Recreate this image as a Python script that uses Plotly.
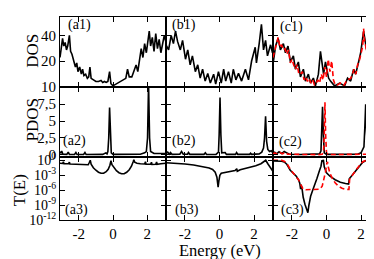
import numpy as np
import plotly.graph_objects as go

# ---------------- data (energy in eV, value) ----------------
dos_a1 = [(-3.1, 22), (-3.0, 33), (-2.95, 37), (-2.88, 30), (-2.8, 33), (-2.72, 27), (-2.65, 30),
          (-2.55, 40), (-2.48, 26), (-2.4, 24), (-2.3, 20), (-2.2, 17), (-2.12, 19), (-2.05, 15),
          (-1.95, 17), (-1.85, 14), (-1.78, 16), (-1.7, 13.5), (-1.6, 14), (-1.5, 12.5), (-1.42, 13),
          (-1.35, 17), (-1.28, 12.5), (-1.15, 12), (-1.0, 11.5), (-0.85, 11.5), (-0.7, 11.8),
          (-0.6, 11.2), (-0.5, 11.5), (-0.4, 11.2), (-0.3, 11.5), (-0.2, 15), (-0.12, 10.8),
          (0.0, 10.2), (0.1, 10.5), (0.25, 11), (0.4, 11.5), (0.6, 12), (0.75, 12.5), (0.85, 16),
          (0.95, 13), (1.1, 13), (1.25, 16), (1.35, 18), (1.45, 15), (1.55, 20), (1.65, 28),
          (1.75, 22), (1.85, 32), (1.95, 25), (2.05, 38), (2.12, 45), (2.2, 30), (2.3, 38),
          (2.4, 26), (2.5, 42), (2.6, 28), (2.7, 36), (2.8, 25), (2.9, 33), (3.0, 40), (3.1, 33)]

dos_b1 = [(-3.1, 31), (-2.95, 27), (-2.8, 40), (-2.67, 32), (-2.55, 45), (-2.43, 34), (-2.27, 27),
          (-2.14, 35), (-1.97, 21), (-1.84, 27), (-1.7, 18), (-1.57, 23), (-1.4, 15), (-1.26, 18),
          (-1.12, 12.6), (-0.98, 16), (-0.83, 11.6), (-0.68, 14.3), (-0.53, 11), (-0.34, 14),
          (-0.22, 10.7), (-0.06, 15), (0.1, 11), (0.24, 16), (0.36, 11.6), (0.52, 15), (0.68, 11),
          (0.8, 16), (0.95, 12), (1.1, 14.3), (1.28, 11.6), (1.5, 16), (1.68, 12), (1.86, 20),
          (2.07, 29), (2.14, 19), (2.3, 32), (2.43, 54), (2.55, 27), (2.67, 35), (2.78, 23),
          (2.96, 31), (3.07, 25), (3.1, 26)]

dos_c1_black = [(-3.1, 20), (-3.08, 19.5), (-2.95, 30), (-2.8, 37), (-2.67, 27), (-2.5, 32), (-2.38, 25),
                (-2.23, 30), (-2.09, 19.5), (-1.92, 23), (-1.8, 16), (-1.63, 19.5), (-1.51, 13),
                (-1.34, 16), (-1.22, 11.6), (-1.05, 14), (-0.93, 11), (-0.76, 12.6), (-0.64, 10.2),
                (-0.47, 14), (-0.35, 26), (-0.17, 14), (-0.06, 19.5), (0.12, 12.6), (0.23, 11.6),
                (0.47, 10.2), (0.76, 11), (1.05, 10.2), (1.22, 12.6), (1.4, 11.6), (1.57, 16),
                (1.69, 14), (1.86, 19.5), (1.98, 25), (2.15, 45), (2.27, 30), (2.38, 23), (2.56, 27),
                (2.67, 19.5), (2.85, 25), (3.02, 19.5), (3.1, 24)]

dos_c1_red = [(-3.1, 22), (-3.0, 26), (-2.9, 33), (-2.8, 38), (-2.7, 29), (-2.6, 31), (-2.5, 27),
              (-2.4, 28), (-2.3, 24), (-2.2, 27), (-2.1, 19), (-2.0, 21), (-1.9, 18), (-1.8, 16),
              (-1.7, 18), (-1.6, 14), (-1.5, 14), (-1.4, 15), (-1.3, 12), (-1.2, 13), (-1.1, 11.5),
              (-1.0, 12.5), (-0.9, 11), (-0.8, 12), (-0.7, 10.5), (-0.6, 11), (-0.5, 12), (-0.4, 11),
              (-0.3, 14), (-0.2, 12), (-0.1, 17), (0.0, 13), (0.1, 21), (0.2, 15), (0.3, 20),
              (0.4, 12), (0.5, 10.5), (0.6, 10.3), (0.8, 11), (1.0, 10.3), (1.2, 12), (1.4, 12.5),
              (1.5, 14), (1.6, 16), (1.7, 14), (1.8, 18), (1.9, 20), (2.0, 24), (2.1, 30),
              (2.15, 48), (2.2, 35), (2.3, 28), (2.4, 24), (2.5, 28), (2.6, 20), (2.7, 22),
              (2.8, 26), (2.9, 20), (3.0, 23), (3.1, 26)]

pdos_a2 = [(-3.1, 0.45), (-3.05, 0.3), (-3.0, 0.55), (-2.93, 0.1), (-2.7, 0.08), (-2.62, 0.4),
           (-2.55, 0.06), (-2.25, 0.06), (-2.17, 0.35), (-2.1, 0.05), (-1.72, 0.05), (-1.64, 0.35),
           (-1.57, 0.05), (-1.0, 0.06), (-0.6, 0.08), (-0.42, 0.3), (-0.35, 0.15), (-0.3, 0.5),
           (-0.25, 2.5), (-0.2, 7.0), (-0.15, 2.5), (-0.1, 0.3), (0.0, 0.08), (0.5, 0.06),
           (1.0, 0.08), (1.6, 0.1), (1.85, 0.3), (1.95, 0.5), (2.02, 2.5), (2.08, 10.5),
           (2.14, 2.5), (2.2, 0.5), (2.4, 0.2), (2.8, 0.15), (3.1, 0.2)]

pdos_b2 = [(-3.1, 0.2), (-3.0, 0.4), (-2.9, 0.1), (-2.84, 0.35), (-2.75, 0.08), (-2.3, 0.1),
           (-2.2, 0.5), (-2.1, 0.1), (-1.85, 0.1), (-1.8, 0.35), (-1.72, 0.08), (-0.9, 0.08),
           (-0.82, 0.3), (-0.75, 0.06), (-0.2, 0.08), (-0.06, 0.4), (-0.02, 3.0), (0.03, 8.5),
           (0.08, 3.0), (0.13, 0.3), (0.33, 0.35), (0.4, 0.08), (0.93, 0.08), (0.99, 0.35),
           (1.06, 0.08), (1.75, 0.08), (1.8, 0.25), (1.86, 0.08), (2.3, 0.15), (2.45, 0.4),
           (2.55, 1.0), (2.61, 2.5), (2.67, 5.7), (2.73, 2.0), (2.8, 0.8), (2.9, 0.5), (3.0, 0.6),
           (3.1, 0.3)]

pdos_c2_black = [(-3.1, 0.2), (-3.0, 0.4), (-2.9, 0.15), (-2.75, 0.45), (-2.6, 0.2), (-2.45, 0.5),
                 (-2.3, 0.3), (-2.15, 0.1), (-1.5, 0.05), (-0.6, 0.05), (-0.4, 0.15), (-0.32, 0.6),
                 (-0.28, 3.0), (-0.23, 7.1), (-0.18, 3.0), (-0.13, 0.3), (0.0, 0.08), (1.0, 0.05),
                 (1.8, 0.1), (2.0, 0.3), (2.1, 0.8), (2.17, 1.2), (2.22, 4.0), (2.27, 7.5),
                 (2.32, 3.5), (2.38, 0.6), (2.5, 0.3), (2.7, 0.2), (2.85, 0.5), (2.95, 0.3),
                 (3.05, 0.7), (3.1, 0.6)]

pdos_c2_red = [(-3.1, 0.15), (-3.0, 0.3), (-2.85, 0.1), (-2.7, 0.35), (-2.55, 0.15), (-2.4, 0.4),
               (-2.25, 0.1), (-1.5, 0.03), (-0.5, 0.03), (-0.25, 0.1), (-0.17, 0.5), (-0.13, 3.0),
               (-0.09, 7.8), (-0.05, 3.0), (0.0, 0.3), (0.1, 0.05), (1.5, 0.03), (2.2, 0.08),
               (2.6, 0.1), (3.1, 0.15)]

# transmission given as log10 T(E)
logT_a3 = [(-3.1, -0.6), (-2.95, -0.65), (-2.9, -0.3), (-2.87, -0.7), (-2.6, -0.7), (-2.55, -0.4),
           (-2.52, -0.75), (-2.2, -0.8), (-1.9, -0.85), (-1.6, -0.9), (-1.45, -0.9), (-1.38, -0.4),
           (-1.33, 0.0), (-1.28, -0.8), (-1.15, -1.5), (-1.0, -2.0), (-0.85, -2.4), (-0.7, -2.6),
           (-0.55, -2.6), (-0.4, -2.3), (-0.28, -1.8), (-0.18, -1.0), (-0.12, -0.1), (-0.06, -0.9),
           (0.05, -1.5), (0.2, -2.1), (0.35, -2.5), (0.5, -2.7), (0.65, -2.7), (0.8, -2.4),
           (0.95, -1.9), (1.08, -1.2), (1.18, -0.3), (1.22, 0.1), (1.27, -0.4), (1.4, -0.6),
           (1.6, -0.7), (1.85, -0.75), (1.9, -0.3), (1.93, -0.8), (2.2, -0.8), (2.25, -0.4),
           (2.28, -0.85), (2.5, -0.8), (2.55, -0.35), (2.58, -0.8), (2.8, -0.7), (3.1, -0.6)]

logT_b3 = [(-3.1, -0.5), (-2.5, -0.6), (-2.0, -0.75), (-1.5, -0.95), (-1.0, -1.2), (-0.6, -1.55),
           (-0.4, -1.85), (-0.25, -2.4), (-0.15, -3.4), (-0.08, -5.4), (-0.03, -4.0), (0.02, -3.0),
           (0.1, -2.6), (0.3, -2.45), (0.6, -2.25), (0.9, -2.05), (1.0, -1.7), (1.03, -2.2),
           (1.2, -1.9), (1.5, -1.65), (1.8, -1.4), (2.1, -1.1), (2.4, -0.7), (2.6, -0.2),
           (2.68, 0.0), (2.8, -0.7), (2.95, -1.6), (3.05, -2.0), (3.1, -1.9)]

logT_c3_black = [(-3.1, -0.15), (-2.8, -0.15), (-2.6, -0.2), (-2.45, -0.35), (-2.3, -0.8), (-2.1, -2.0),
                 (-1.9, -2.7), (-1.75, -3.2), (-1.62, -3.9), (-1.55, -4.6), (-1.5, -5.8), (-1.47, -4.9),
                 (-1.42, -5.6), (-1.35, -7.4), (-1.25, -8.8), (-1.15, -10.0), (-1.08, -10.5),
                 (-1.02, -9.0), (-0.92, -7.2), (-0.8, -6.0), (-0.68, -5.0), (-0.55, -3.6),
                 (-0.42, -2.2), (-0.32, -1.2), (-0.26, 0.0), (-0.22, -0.3), (-0.18, 0.1),
                 (-0.13, -1.3), (0.0, -2.5), (0.2, -3.2), (0.5, -3.9), (0.8, -4.4), (1.1, -4.65),
                 (1.28, -4.75), (1.32, -3.7), (1.5, -2.9), (1.7, -2.0), (1.9, -1.2), (2.1, -0.4),
                 (2.3, -0.05), (2.6, -0.05), (3.1, -0.05)]

logT_c3_red = [(-3.1, 0.0), (-2.6, 0.0), (-2.45, -0.2), (-2.3, -0.6), (-2.1, -1.8), (-1.9, -2.6),
               (-1.75, -3.2), (-1.6, -4.0), (-1.45, -5.2), (-1.35, -5.8), (-1.2, -5.9), (-0.9, -5.9),
               (-0.6, -5.9), (-0.4, -5.8), (-0.25, -5.2), (-0.15, -4.0), (-0.06, -2.4), (0.02, -0.6),
               (0.06, -0.3), (0.1, -1.3), (0.2, -2.6), (0.35, -3.7), (0.5, -4.5), (0.7, -5.2),
               (0.9, -5.6), (1.1, -5.8), (1.3, -5.85), (1.34, -3.8), (1.5, -2.9), (1.7, -2.0),
               (1.9, -1.1), (2.1, -0.3), (2.3, 0.0), (3.1, 0.0)]

x_ticks = [-2, 0, 2]
x_ticktext = ["-2", "0", "2"]
dos_ticks = [10, 20, 40]
pdos_ticks = [0, 2.5, 5, 7.5]
pdos_ticktext = ["0", "2,5", "5", "7,5"]
t_ticks = [1, 1e-3, 1e-6, 1e-9, 1e-12]
t_ticktext = ["10<sup>0</sup>", "10<sup>-3</sup>", "10<sup>-6</sup>", "10<sup>-9</sup>", "10<sup>-12</sup>"]
panel_labels = ["(a1)", "(b1)", "(c1)", "(a2)", "(b2)", "(c2)", "(a3)", "(b3)", "(c3)"]

# ---------------- figure ----------------
W, H = 374, 259
FONT = "Liberation Serif, Times New Roman, serif"


def fx(p):
    return p / W


def fy(p):
    return 1 - p / H


cols = [(52, 158), (158, 265), (265, 372)]
rows = [(2, 76), (76, 151), (151, 218)]

fig = go.Figure()
layout = dict(width=W, height=H, autosize=False, margin=dict(l=0, r=0, t=0, b=0),
              paper_bgcolor="white", plot_bgcolor="white", showlegend=False,
              font=dict(family=FONT, color="black", size=15))

for r in range(3):
    for c in range(3):
        idx = r * 3 + c + 1
        s = "" if idx == 1 else str(idx)
        common = dict(ticks="inside", ticklen=5, tickwidth=1, tickcolor="black", mirror="ticks",
                      showline=True, linecolor="black", linewidth=1, showgrid=False, zeroline=False)
        layout["xaxis" + s] = dict(domain=[fx(cols[c][0]), fx(cols[c][1])], anchor="y" + s,
                                   range=[-3.1, 3.1], tickvals=x_ticks, ticktext=x_ticktext,
                                   showticklabels=(r == 2),
                                   tickfont=dict(family=FONT, size=15, color="black"), **common)
        if r == 0:
            ya = dict(type="log", range=[1.0, 1.82], tickvals=dos_ticks,
                      ticktext=[str(v) for v in dos_ticks], tickfont=dict(family=FONT, size=15, color="black"))
        elif r == 1:
            ya = dict(range=[-0.35, 10.1], tickvals=pdos_ticks, ticktext=pdos_ticktext,
                      tickfont=dict(family=FONT, size=15, color="black"))
        else:
            ya = dict(type="log", range=[-12.03, 0.6], tickvals=t_ticks, ticktext=t_ticktext,
                      tickfont=dict(family=FONT, size=14, color="black"))
        layout["yaxis" + s] = dict(domain=[fy(rows[r][1]), fy(rows[r][0])], anchor="x" + s,
                                   showticklabels=(c == 0), **ya, **common)

series = [
    (1, dos_a1, "black", "solid", False), (2, dos_b1, "black", "solid", False),
    (3, dos_c1_black, "black", "solid", False), (3, dos_c1_red, "red", "dash", False),
    (4, pdos_a2, "black", "solid", False), (5, pdos_b2, "black", "solid", False),
    (6, pdos_c2_black, "black", "solid", False), (6, pdos_c2_red, "red", "dash", False),
    (7, logT_a3, "black", "solid", True), (8, logT_b3, "black", "solid", True),
    (9, logT_c3_black, "black", "solid", True), (9, logT_c3_red, "red", "dash", True),
]
for idx, data, color, dash, is_log in series:
    s = "" if idx == 1 else str(idx)
    e = [p[0] for p in data]
    v = [p[1] for p in data]
    if is_log:
        v = list(np.power(10.0, v))
    fig.add_trace(go.Scatter(x=e, y=v, mode="lines", xaxis="x" + s, yaxis="y" + s,
                             line=dict(color=color, width=1.6,
                                       dash=("5px,3px" if dash == "dash" else "solid")),
                             hoverinfo="skip"))

ann = []
label_pos = [(71, 11), (176, 11), (283, 13), (66, 134), (176, 134), (282, 135),
             (68, 207), (179, 207), (284, 207)]
for t, (x, y) in zip(panel_labels, label_pos):
    ann.append(dict(text=t, x=fx(x), y=fy(y), xref="paper", yref="paper", showarrow=False,
                    xanchor="center", yanchor="middle", font=dict(family=FONT, size=14, color="black")))
for t, (x, y) in zip(["DOS", "PDOS", "T(E)"], [(25, 38), (25, 112), (11, 186)]):
    ann.append(dict(text=t, x=fx(x), y=fy(y), xref="paper", yref="paper", showarrow=False,
                    textangle=-90, xanchor="center", yanchor="middle",
                    font=dict(family=FONT, size=17, color="black")))
ann.append(dict(text="Energy (eV)", x=fx(212), y=fy(250), xref="paper", yref="paper", showarrow=False,
                xanchor="center", yanchor="middle", font=dict(family=FONT, size=16.5, color="black")))
layout["annotations"] = ann

fig.update_layout(**layout)
fig.write_html("out.html")
